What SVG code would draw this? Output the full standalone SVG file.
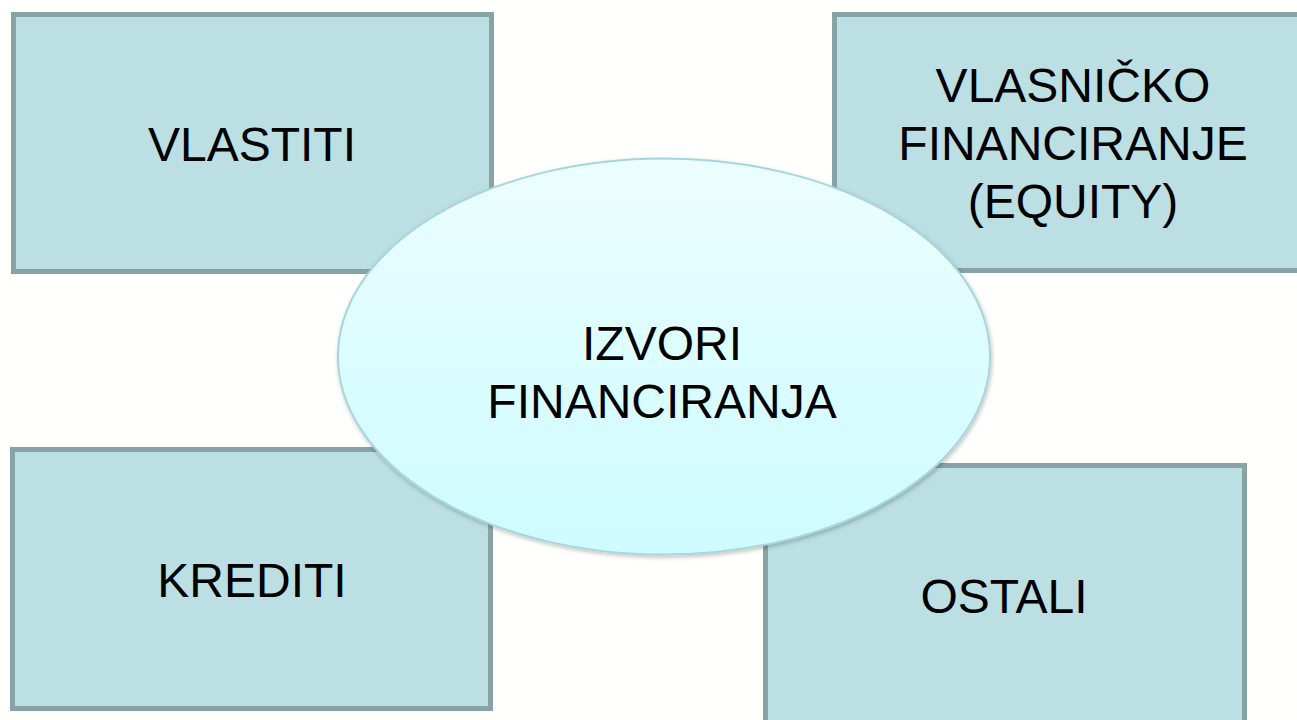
<svg xmlns="http://www.w3.org/2000/svg" width="1297" height="720" viewBox="0 0 1297 720">
  <style>
    .box { fill: #bbdfe2; stroke: #87a3a6; stroke-width: 5; }
    .lbl { font-family: "Liberation Sans", Arial, sans-serif; font-size: 48px; fill: #000; text-anchor: middle; }
  </style>
  <defs>
    <linearGradient id="ellGrad" x1="0" y1="0" x2="0" y2="1">
      <stop offset="0" stop-color="#ecfeff"/>
      <stop offset="1" stop-color="#cdfbff"/>
    </linearGradient>
    <filter id="shadow" x="-10%" y="-10%" width="120%" height="120%">
      <feDropShadow dx="1" dy="2" stdDeviation="2" flood-color="#000" flood-opacity="0.25"/>
    </filter>
  </defs>
  <rect x="0" y="0" width="1297" height="720" fill="#fffffd"/>
  <g id="connectors"/>
  <g id="node-vlastiti">
    <rect class="box" x="13.5" y="14.5" width="478" height="257"/>
    <text class="lbl" x="252" y="161">VLASTITI</text>
  </g>
  <g id="node-vlasnicko">
    <rect class="box" x="834.5" y="14.5" width="478" height="256"/>
    <text class="lbl" x="1073" y="102">VLASNIČKO</text>
    <text class="lbl" x="1073" y="160">FINANCIRANJE</text>
    <text class="lbl" x="1073" y="218">(EQUITY)</text>
  </g>
  <g id="node-krediti">
    <rect class="box" x="12.5" y="449.5" width="478" height="259"/>
    <text class="lbl" x="252" y="597">KREDITI</text>
  </g>
  <g id="node-ostali">
    <rect class="box" x="765.5" y="465.5" width="479" height="260"/>
    <text class="lbl" x="1004" y="613">OSTALI</text>
  </g>
  <g id="node-izvori">
    <ellipse cx="664" cy="356.5" rx="326" ry="198" fill="url(#ellGrad)" stroke="#a6d6db" stroke-width="2" filter="url(#shadow)"/>
    <text class="lbl" x="662" y="360">IZVORI</text>
    <text class="lbl" x="662" y="418">FINANCIRANJA</text>
  </g>
</svg>
